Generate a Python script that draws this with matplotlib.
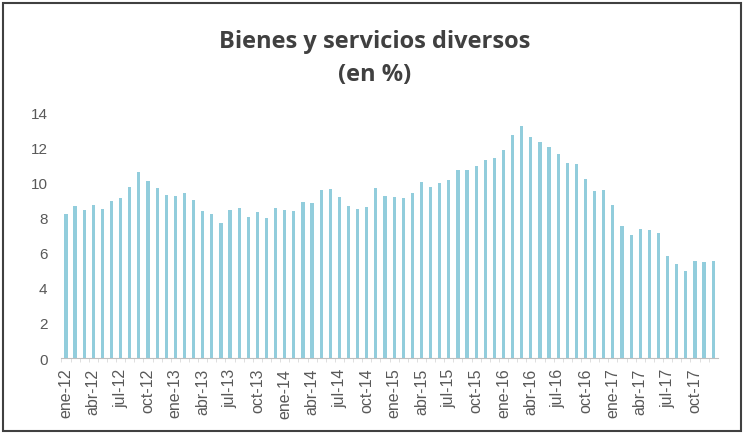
import matplotlib.pyplot as plt
from matplotlib.patches import Rectangle
import numpy as np

# Datos: variación (en %), ene-12 a dic-17
meses = ['ene', 'feb', 'mar', 'abr', 'may', 'jun',
         'jul', 'ago', 'sep', 'oct', 'nov', 'dic']
anios = ['12', '13', '14', '15', '16', '17']
etiquetas = [m + '-' + a for a in anios for m in meses]

valores = [
    8.2, 8.67, 8.4, 8.7, 8.5, 8.93, 9.1, 9.75, 10.57, 10.07, 9.66, 9.26,
    9.2, 9.37, 9.0, 8.35, 8.18, 7.68, 8.4, 8.56, 8.03, 8.29, 7.97, 8.52,
    8.4, 8.35, 8.88, 8.82, 9.54, 9.6, 9.16, 8.63, 8.46, 8.61, 9.66, 9.22,
    9.16, 9.1, 9.37, 10.0, 9.75, 9.96, 10.13, 10.68, 10.68, 10.93, 11.27, 11.38,
    11.86, 12.67, 13.2, 12.56, 12.29, 12.0, 11.59, 11.1, 11.04, 10.19, 9.49, 9.54,
    8.7, 7.49, 7.0, 7.36, 7.27, 7.11, 5.8, 5.37, 4.93, 5.52, 5.46, 5.52,
]

color_barra = '#92CDDC'
gris = '#595959'

fig = plt.figure(figsize=(7.45, 4.35), dpi=100)
ax = fig.add_axes([0.0824, 0.1747, 0.881, 0.5655])

x = np.arange(len(valores))
ax.bar(x, valores, width=0.35, color=color_barra)

ax.set_xlim(-0.5, len(valores) - 0.5)
ax.set_ylim(0, 14)
ax.set_yticks(range(0, 15, 2))

ax.set_xticks(x[::3])
ax.set_xticklabels(etiquetas[::3], rotation=90, fontsize=11.5,
                   color=gris, family='Liberation Sans')
ax.set_xticks(x - 0.5, minor=True)
for lbl in ax.get_yticklabels():
    lbl.set_family('Liberation Sans')
ax.tick_params(axis='y', length=0, labelsize=11, labelcolor=gris, pad=10)
ax.tick_params(axis='x', which='major', length=0, pad=7)
ax.tick_params(axis='x', which='minor', length=3, color='#D9D9D9')

for s in ['top', 'right', 'left']:
    ax.spines[s].set_visible(False)
ax.spines['bottom'].set_color('#BFBFBF')

# Título
fig.text(0.503, 0.903, 'Bienes y servicios diversos', ha='center', va='center',
         fontsize=17, fontweight='bold', color='#404040', family='Open Sans')
fig.text(0.503, 0.827, '(en %)', ha='center', va='center',
         fontsize=17, fontweight='bold', color='#404040', family='Open Sans')

# Marco
fig.patches.append(Rectangle((0.004, 0.007), 0.99, 0.983, transform=fig.transFigure,
                             fill=False, edgecolor='#404040', linewidth=1.5))

fig.savefig('out.png', dpi=100)
